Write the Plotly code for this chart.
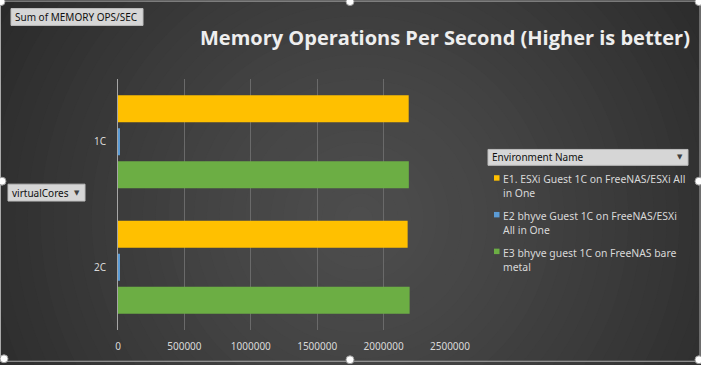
import plotly.graph_objects as go

# ---- data ----
categories = ["1C", "2C"]
series_names = [
    "E1. ESXi Guest 1C on FreeNAS/ESXi All<br>in One",
    "E2 bhyve Guest 1C on FreeNAS/ESXi<br>All in One",
    "E3 bhyve guest 1C on FreeNAS bare<br>metal",
]
e1_values = [2189000, 2181000]
e2_values = [12000, 12000]
e3_values = [2190000, 2196000]
x_tick_values = [0, 500000, 1000000, 1500000, 2000000, 2500000]
x_tick_labels = ["0", "500000", "1000000", "1500000", "2000000", "2500000"]
series_values = [e1_values, e2_values, e3_values]
colors = ["#FFC000", "#5B9BD5", "#6CAE44"]

W, H = 701, 365
L, R, T, B = 118, 450, 79, 332  # plot area in pixels


def px(x):
    return (x - L) / (R - L)


def py(y):
    return (B - y) / (B - T)


fig = go.Figure()
for name, vals, col in zip(series_names, series_values, colors):
    fig.add_trace(go.Bar(
        y=categories, x=vals, name=name.replace("<br>", " "), orientation="h",
        marker=dict(color=col, line=dict(width=0)), showlegend=False,
    ))

shapes = []
# radial-ish background glow
cx, cy = 360, 220
maxr = 460
steps = 36
for i in range(steps):
    r = maxr * (1 - i / steps)
    t = (r / maxr)
    v = int(round(0x4d - (0x4d - 0x26) * t ** 1.3))
    col = f"rgb({v},{v},{v})"
    shapes.append(dict(type="circle", xref="paper", yref="paper", layer="below",
                       x0=px(cx - r), x1=px(cx + r), y0=py(cy + r), y1=py(cy - r),
                       fillcolor=col, line=dict(width=0)))

# chart border
shapes.append(dict(type="rect", xref="paper", yref="paper", layer="above",
                   x0=px(0.5), x1=px(700), y0=py(363.5), y1=py(0.5),
                   line=dict(color="#a9a9a9", width=1)))

annotations = []


def button(x0, x1, y0, y1, text, arrow=True, size=10):
    shapes.append(dict(type="rect", xref="paper", yref="paper", layer="above",
                       x0=px(x0), x1=px(x1), y0=py(y1), y1=py(y0),
                       fillcolor="#d6d6d6", line=dict(color="#bdbdbd", width=1)))
    annotations.append(dict(xref="paper", yref="paper", x=px(x0 + 2), y=py((y0 + y1) / 2),
                            xanchor="left", yanchor="middle", text=text, showarrow=False,
                            font=dict(family="Noto Sans", size=size, color="#101010")))
    if arrow:
        annotations.append(dict(xref="paper", yref="paper", x=px(x1 - 8), y=py((y0 + y1) / 2),
                                xanchor="center", yanchor="middle", text="▼", showarrow=False,
                                font=dict(family="DejaVu Sans", size=7, color="#404040")))


button(11, 143, 8, 25, "Sum of MEMORY OPS/SEC", arrow=False)
button(8, 85, 185, 202, "virtualCores")
button(488, 688, 150, 166, "Environment Name")

# legend items
legend_top = [171, 208, 245]
for name, col, yt in zip(series_names, colors, legend_top):
    shapes.append(dict(type="rect", xref="paper", yref="paper", layer="above",
                       x0=px(494), x1=px(499.5), y0=py(yt + 10.5), y1=py(yt + 5),
                       fillcolor=col, line=dict(width=0)))
    annotations.append(dict(xref="paper", yref="paper", x=px(501), y=py(yt),
                            xanchor="left", yanchor="top", align="left", text=name,
                            showarrow=False,
                            font=dict(family="Noto Sans", size=10.4, color="#d9d9d9")))

# selection handles
for hx, hy in [(1, 1), (350, 1), (699, 1), (2, 182), (699, 182), (4, 361), (350, 362), (699, 362)]:
    shapes.append(dict(type="circle", xref="paper", yref="paper", layer="above",
                       x0=px(hx - 4), x1=px(hx + 4), y0=py(hy + 4), y1=py(hy - 4),
                       fillcolor="#ffffff", line=dict(color="#9a9a9a", width=1)))

# title
annotations.append(dict(xref="paper", yref="paper", x=px(692), y=py(37),
                        xanchor="right", yanchor="middle",
                        text="<b>Memory Operations Per Second (Higher is better)</b>",
                        showarrow=False,
                        font=dict(family="Open Sans", size=20, color="#eeeeee")))

fig.update_layout(
    width=W, height=H,
    margin=dict(l=L, r=W - R, t=T, b=H - B, pad=0),
    paper_bgcolor="#282828", plot_bgcolor="rgba(0,0,0,0)",
    barmode="group", bargap=0.21, bargroupgap=0.18,
    shapes=shapes, annotations=annotations,
    font=dict(family="Noto Sans", size=10, color="#d9d9d9"),
    showlegend=False,
)
fig.update_xaxes(range=[0, 2500000], tickvals=x_tick_values, ticktext=x_tick_labels,
                 showgrid=True, gridcolor="#6a6a6a", gridwidth=1, zeroline=False,
                 showline=False, ticks="", ticklabelstandoff=9,
                 tickfont=dict(family="Noto Sans", size=10, color="#d9d9d9"))
fig.update_yaxes(autorange="reversed", showgrid=False, showline=True, linecolor="#a6a6a6",
                 linewidth=1, ticks="", ticklabelstandoff=9,
                 tickfont=dict(family="Noto Sans", size=10, color="#d9d9d9"))

fig.write_html(
    "out.html",
    config={"displayModeBar": False},
    post_script="document.body.style.margin='0';document.body.style.background='#282828';",
)
